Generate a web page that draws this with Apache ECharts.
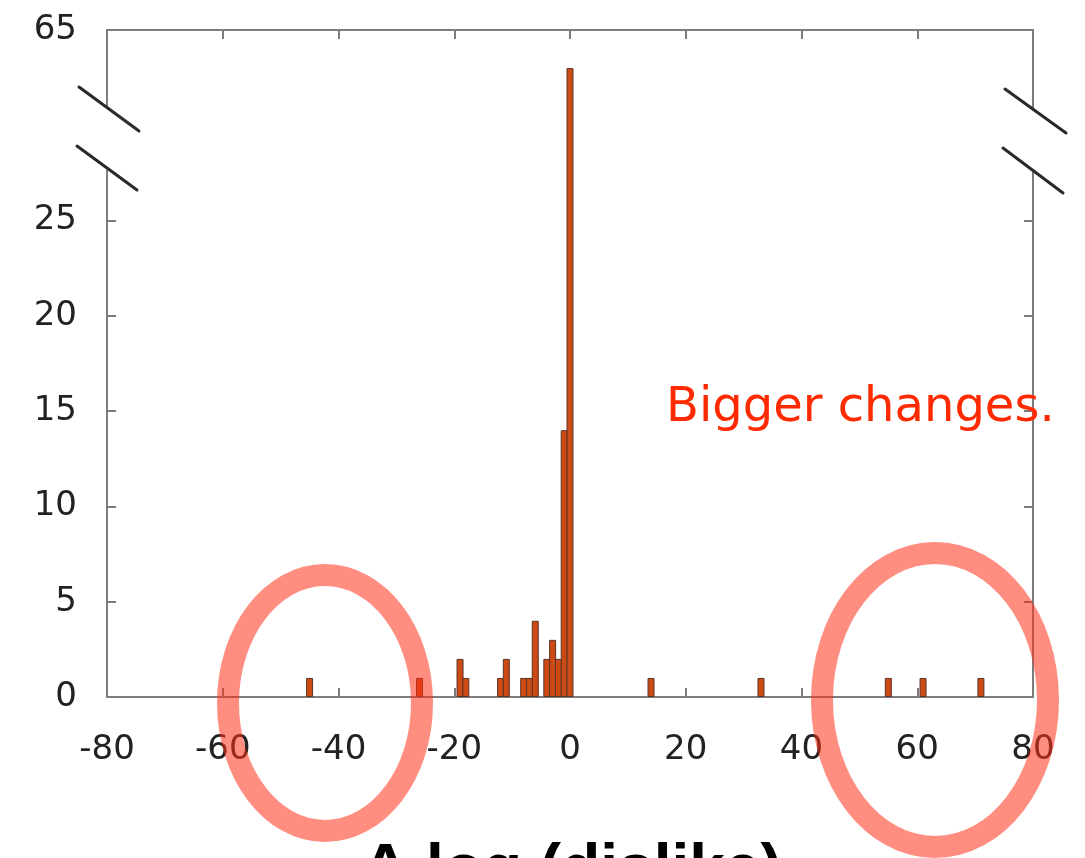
<!DOCTYPE html>
<html>
<head>
<meta charset="utf-8">
<script src="https://cdn.jsdelivr.net/npm/echarts@6/dist/echarts.min.js"></script>
<style>
  html, body { margin: 0; padding: 0; background: #ffffff; }
  #chart { width: 1085px; height: 858px; }
</style>
</head>
<body>
<div id="chart"></div>
<script>
// Histogram bins (bin centre) and their counts
const binCenters = [-45, -26, -19, -18, -12, -11, -8, -7, -6, -4, -3, -2, -1, 0, 14, 33, 55, 61, 71];
const binCounts  = [1, 1, 2, 1, 1, 2, 1, 1, 4, 2, 3, 2, 14, 63, 1, 1, 1, 1, 1];

// Axis ticks and the collapsed part of the count axis
const xTickValues = [-80, -60, -40, -20, 0, 20, 40, 60, 80];
const yTickValues = [0, 5, 10, 15, 20, 25, 65];
const yBreakStart = 29;
const yBreakEnd = 59;

const xTitle = 'Δ log (dislike)';
const noteText = 'Bigger changes.';

const AXIS_GREY = '#7d7d7d';
const LABEL_FONT = 'DejaVu Sans';

const chart = echarts.init(document.getElementById('chart'), null, { renderer: 'canvas' });

const axisLineStyle = { color: AXIS_GREY, width: 2 };

function yAxisDef(position, showLabels) {
  return {
    type: 'value',
    position: position,
    min: 0,
    max: 65,
    interval: 5,
    breaks: [{ start: yBreakStart, end: yBreakEnd, gap: 0 }],
    breakArea: { show: false },
    axisLine: { show: true, onZero: false, lineStyle: axisLineStyle },
    axisTick: { show: true, inside: true, length: 9, customValues: yTickValues, lineStyle: axisLineStyle },
    axisLabel: {
      show: showLabels,
      customValues: yTickValues,
      fontFamily: LABEL_FONT,
      fontSize: 34,
      color: '#222',
      margin: 30
    },
    splitLine: { show: false }
  };
}

function xAxisDef(position, showLabels) {
  return {
    type: 'value',
    position: position,
    min: xTickValues[0],
    max: xTickValues[xTickValues.length - 1],
    interval: 20,
    axisLine: { show: true, onZero: false, lineStyle: axisLineStyle },
    axisTick: { show: true, inside: true, length: 9, lineStyle: axisLineStyle },
    axisLabel: {
      show: showLabels,
      fontFamily: LABEL_FONT,
      fontSize: 34,
      color: '#222',
      margin: 36
    },
    splitLine: { show: false }
  };
}

// Break marks: two slashes across each vertical axis
const slashStyle = { stroke: '#2a2a2a', lineWidth: 3, lineCap: 'round' };
function slash(x1, y1, x2, y2) {
  return { type: 'line', z: 101, shape: { x1: x1, y1: y1, x2: x2, y2: y2 }, style: slashStyle };
}

// Highlight rings round the outlying bars
const ringStyle = { fill: 'none', stroke: 'rgba(255, 50, 24, 0.55)', lineWidth: 22 };

chart.setOption({
  animation: false,
  backgroundColor: '#ffffff',
  grid: { left: 107, right: 52, top: 30, bottom: 161, containLabel: false },
  xAxis: [xAxisDef('bottom', true), xAxisDef('top', false)],
  yAxis: [yAxisDef('left', true), yAxisDef('right', false)],
  series: [{
    type: 'bar',
    xAxisIndex: 0,
    yAxisIndex: 0,
    barWidth: 7,
    data: binCenters.map((x, i) => [x, binCounts[i]]),
    itemStyle: { color: '#cc4a14', borderColor: '#5b3426', borderWidth: 1 }
  }],
  graphic: [
    // gaps in the vertical axis lines at the break
    { type: 'rect', z: 100, shape: { x: 101, y: 107, width: 12, height: 63 }, style: { fill: '#ffffff' } },
    { type: 'rect', z: 100, shape: { x: 1027, y: 111, width: 12, height: 61 }, style: { fill: '#ffffff' } },
    slash(79, 87, 139, 131),
    slash(77, 146, 137, 190),
    slash(1005, 89, 1066, 133),
    slash(1003, 148, 1063, 193),
    {
      type: 'text', z: 102,
      style: {
        text: noteText, x: 666, y: 409,
        fontFamily: LABEL_FONT, fontSize: 48, fill: '#ff2a00',
        align: 'left', verticalAlign: 'middle'
      }
    },
    {
      type: 'text', z: 102,
      style: {
        text: xTitle, x: 572, y: 871,
        fontFamily: 'Liberation Sans', fontWeight: 'bold', fontSize: 64, fill: '#000000',
        align: 'center', verticalAlign: 'middle'
      }
    },
    { type: 'ellipse', z: 110, shape: { cx: 325, cy: 703, rx: 97, ry: 128 }, style: ringStyle },
    { type: 'ellipse', z: 110, shape: { cx: 935, cy: 700, rx: 113, ry: 147 }, style: ringStyle }
  ]
});
</script>
</body>
</html>
